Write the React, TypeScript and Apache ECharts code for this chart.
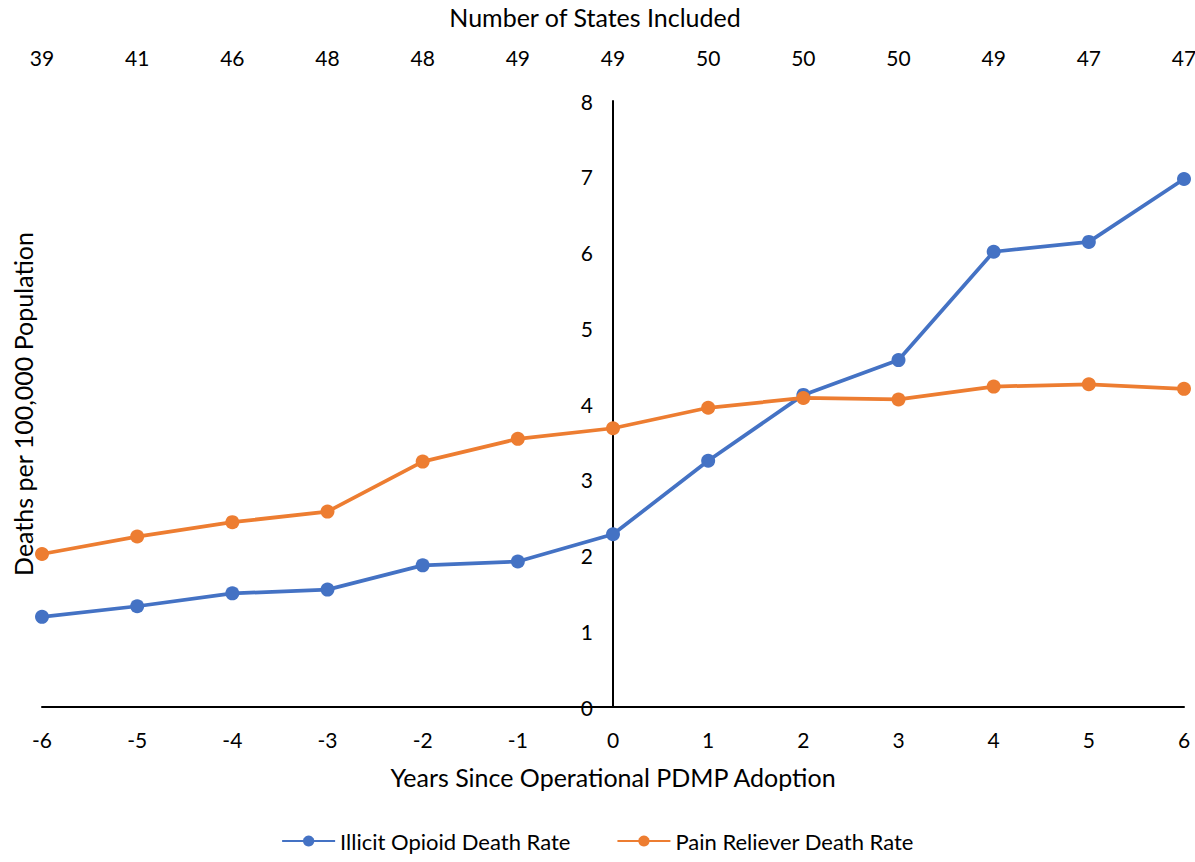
import React, { useEffect, useRef } from "react";
import * as echarts from "echarts";

const years = [-6, -5, -4, -3, -2, -1, 0, 1, 2, 3, 4, 5, 6];
const statesIncluded = ["39", "41", "46", "48", "48", "49", "49", "50", "50", "50", "49", "47", "47"];
const illicitOpioid = [1.19, 1.33, 1.5, 1.55, 1.87, 1.92, 2.28, 3.25, 4.12, 4.58, 6.01, 6.14, 6.97];
const painReliever = [2.02, 2.25, 2.44, 2.58, 3.24, 3.54, 3.68, 3.95, 4.08, 4.06, 4.23, 4.26, 4.2];

const FONT = "Lato";
const TXT = "#000000";

export default function App() {
  const ref = useRef<HTMLDivElement>(null);
  useEffect(() => {
    if (!ref.current) return;
    const chart = echarts.init(ref.current, undefined, { renderer: "svg" });
    chart.setOption({
      animation: false,
      backgroundColor: "#ffffff",
      textStyle: { fontFamily: FONT, color: TXT },
      grid: { left: 42, right: 11, top: 101, bottom: 155, containLabel: false, outerBoundsMode: "none" },
      legend: {
        bottom: 5,
        left: "center",
        itemWidth: 53,
        itemHeight: 14,
        itemGap: 46,
        textStyle: { fontFamily: FONT, fontSize: 22, color: TXT },
        data: ["Illicit Opioid Death Rate", "Pain Reliever Death Rate"],
      },
      xAxis: [
        {
          type: "value",
          min: -6,
          max: 6,
          interval: 1,
          position: "bottom",
          name: "Years Since Operational PDMP Adoption",
          nameLocation: "middle",
          nameGap: 57,
          nameTextStyle: { fontFamily: FONT, fontSize: 25, color: TXT },
          axisLine: { onZero: false, lineStyle: { color: "#000", width: 2 } },
          axisTick: { show: false },
          splitLine: { show: false },
          axisLabel: { fontFamily: FONT, fontSize: 21, color: TXT, margin: 22 },
        },
        {
          type: "category",
          position: "top",
          boundaryGap: false,
          data: statesIncluded,
          name: "Number of States Included",
          nameLocation: "middle",
          nameGap: 72,
          nameTextStyle: { fontFamily: FONT, fontSize: 25, color: TXT, padding: [0, 36, 0, 0] },
          axisLine: { show: false },
          axisTick: { show: false },
          splitLine: { show: false },
          axisLabel: { fontFamily: FONT, fontSize: 21, color: TXT, margin: 33, interval: 0 },
        },
      ],
      yAxis: {
        type: "value",
        min: 0,
        max: 8,
        interval: 1,
        position: "left",
        offset: -571,
        name: "Deaths per 100,000 Population",
        nameLocation: "middle",
        nameGap: 578,
        nameRotate: 90,
        nameTextStyle: { fontFamily: FONT, fontSize: 25, color: TXT },
        axisLine: { show: true, onZero: false, lineStyle: { color: "#000", width: 2 } },
        axisTick: { show: false },
        splitLine: { show: false },
        axisLabel: { fontFamily: FONT, fontSize: 21, color: TXT, margin: 20 },
      },
      series: [
        {
          name: "Illicit Opioid Death Rate",
          type: "line",
          xAxisIndex: 0,
          data: years.map((x, i) => [x, illicitOpioid[i]]),
          symbol: "circle",
          symbolSize: 14,
          lineStyle: { color: "#4472C4", width: 3.75 },
          itemStyle: { color: "#4472C4" },
        },
        {
          name: "Pain Reliever Death Rate",
          type: "line",
          xAxisIndex: 0,
          data: years.map((x, i) => [x, painReliever[i]]),
          symbol: "circle",
          symbolSize: 14,
          lineStyle: { color: "#ED7D31", width: 3.75 },
          itemStyle: { color: "#ED7D31" },
        },
      ],
    });
    return () => chart.dispose();
  }, []);
  return (
    <div
      ref={ref}
      style={{ position: "absolute", left: 0, top: 0, width: 1195, height: 862 }}
    />
  );
}
